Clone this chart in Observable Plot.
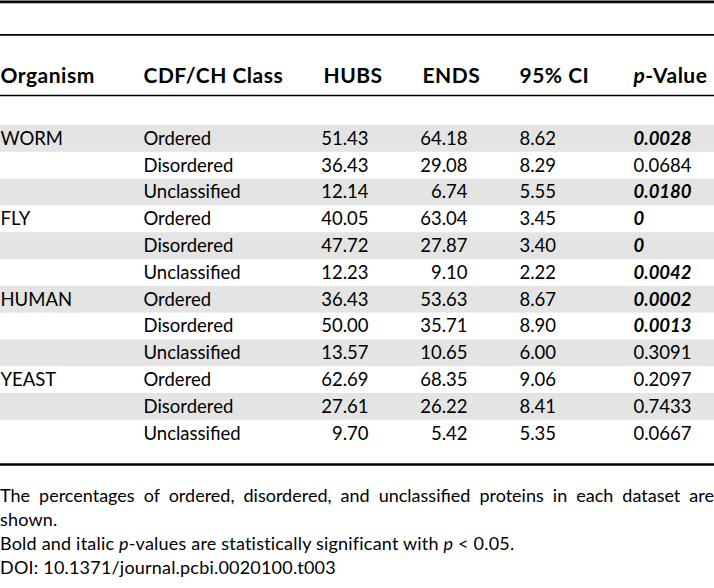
<!DOCTYPE html>
<html><head><meta charset="utf-8">
<script src="https://cdn.jsdelivr.net/npm/d3@7"></script>
<script src="https://cdn.jsdelivr.net/npm/@observablehq/plot@0.6"></script>
<style>
body{margin:0;background:#fff;}
#chart svg{display:block;}
#cap{width:714px;font-family:Lato,sans-serif;font-size:18px;letter-spacing:0.2px;line-height:23.9px;color:#000;margin-top:14.4px}
#cap div{white-space:nowrap}
#cap .j{text-align:justify;text-align-last:justify;white-space:normal;letter-spacing:0}
</style></head><body>
<div id="chart"></div>
<div id="cap">
<div class="j">The percentages of ordered, disordered, and unclassified proteins in each dataset are</div>
<div>shown.</div>
<div>Bold and italic <i>p</i>-values are statistically significant with <i>p</i> &lt; 0.05.</div>
<div>DOI: 10.1371/journal.pcbi.0020100.t003</div>
</div>
<script>
const headers = ["Organism", "CDF/CH Class", "HUBS", "ENDS", "95% CI", "p-Value"];
const organisms = ["WORM", "FLY", "HUMAN", "YEAST"];
const classes = ["Ordered", "Disordered", "Unclassified"];
const hubs = [51.43, 36.43, 12.14, 40.05, 47.72, 12.23, 36.43, 50.00, 13.57, 62.69, 27.61, 9.70];
const ends = [64.18, 29.08, 6.74, 63.04, 27.87, 9.10, 53.63, 35.71, 10.65, 68.35, 26.22, 5.42];
const ci = [8.62, 8.29, 5.55, 3.45, 3.40, 2.22, 8.67, 8.90, 6.00, 9.06, 8.41, 5.35];
const pvals = ["0.0028", "0.0684", "0.0180", "0", "0", "0.0042", "0.0002", "0.0013", "0.3091", "0.2097", "0.7433", "0.0667"];

// layout
const W = 714, H = 470;
const headerX = [0, 143, 323, 422, 519, 633];
const colX = {org: 0, cls: 143, hubsR: 368, endsR: 467, ci: 519, p: 633};
const headerY = 75.5;
const rowTop = 125, rowH = 26.8;
const font = "Lato, sans-serif";
const fs = 18.5;

const rows = hubs.map((h, i) => ({
  i,
  org: i % 3 === 0 ? organisms[i / 3] : "",
  cls: classes[i % 3],
  hubs: h.toFixed(2),
  ends: ends[i].toFixed(2),
  ci: ci[i].toFixed(2),
  p: pvals[i],
  sig: +pvals[i] < 0.05,
  y: rowTop + rowH * (i + 0.5),
  y1: rowTop + rowH * i,
  y2: rowTop + rowH * (i + 1)
}));

const txt = (data, opts) => Plot.text(data, {fontSize: fs, fill: "#000", lineAnchor: "middle", ...opts});

const chart = Plot.plot({
  width: W, height: H, margin: 0,
  x: {domain: [0, W], range: [0, W], axis: null},
  y: {domain: [0, H], range: [0, H], axis: null},
  style: {fontFamily: font, background: "#fff"},
  marks: [
    Plot.rect(rows.filter(d => d.i % 2 === 0), {x1: 0, x2: W, y1: "y1", y2: "y2", fill: "#e4e4e4"}),
    Plot.ruleY([1.3], {stroke: "#000", strokeWidth: 2.7}),
    Plot.ruleY([34.3], {stroke: "#000", strokeWidth: 1.8}),
    Plot.ruleY([95], {stroke: "#000", strokeWidth: 1.6}),
    Plot.ruleY([464], {stroke: "#000", strokeWidth: 2.5}),
    Plot.text(headers, {x: (d, i) => headerX[i], y: headerY, text: d => d, textAnchor: "start", fontWeight: "bold", fontSize: 21, fill: "#000", lineAnchor: "middle"}),
    txt(rows, {x: colX.org, y: "y", text: "org", textAnchor: "start"}),
    txt(rows, {x: colX.cls, y: "y", text: "cls", textAnchor: "start"}),
    txt(rows, {x: colX.hubsR, y: "y", text: "hubs", textAnchor: "end"}),
    txt(rows, {x: colX.endsR, y: "y", text: "ends", textAnchor: "end"}),
    txt(rows, {x: colX.ci, y: "y", text: "ci", textAnchor: "start"}),
    txt(rows.filter(d => !d.sig), {x: colX.p, y: "y", text: "p", textAnchor: "start"}),
    txt(rows.filter(d => d.sig), {x: colX.p, y: "y", text: "p", textAnchor: "start", fontWeight: "bold", fontStyle: "italic"})
  ]
});
document.getElementById("chart").appendChild(chart);

// header letter spacing and italic "p" in the p-Value header
d3.select(chart).selectAll("text").filter(function() { return headers.includes(this.textContent); })
  .attr("letter-spacing", "0.5px");
d3.select(chart).selectAll("text").filter(function() { return this.textContent === "p-Value"; })
  .each(function() {
    const t = d3.select(this);
    t.text(null);
    t.append("tspan").attr("font-style", "italic").text("p");
    t.append("tspan").text("-Value");
  });
</script>
</body></html>
